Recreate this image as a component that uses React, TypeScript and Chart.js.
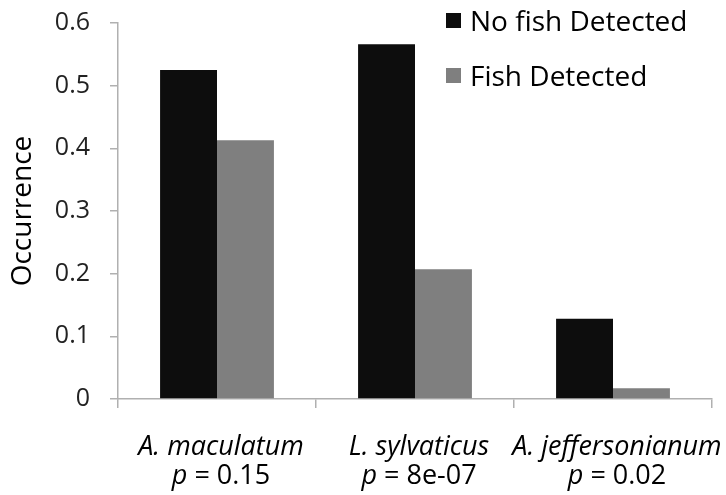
import React, { useEffect, useRef } from "react";
import { Chart, registerables } from "chart.js";

Chart.register(...registerables);

const categories = ["A. maculatum", "L. sylvaticus", "A. jeffersonianum"];
const pValues = ["0.15", "8e-07", "0.02"];
const seriesNames = ["No fish Detected", "Fish Detected"];
const noFishDetected = [0.525, 0.566, 0.128];
const fishDetected = [0.413, 0.207, 0.017];
const seriesColors = ["#0d0d0d", "#7f7f7f"];
const yMin = 0;
const yMax = 0.6;
const yStep = 0.1;

const FONT = "'Open Sans', 'Noto Sans', sans-serif";

const xLabelPlugin = {
  id: "xLabels",
  afterDraw(chart: any) {
    const ctx = chart.ctx;
    const xs = chart.scales.x;
    const base = chart.chartArea.bottom;
    ctx.save();
    ctx.fillStyle = "#000";
    ctx.textBaseline = "alphabetic";
    categories.forEach((cat, i) => {
      const x = xs.getPixelForValue(i) + 4;
      ctx.font = `italic 27px ${FONT}`;
      ctx.textAlign = "center";
      ctx.fillText(cat, x, base + 56);
      const pPart = "p";
      const rest = " = " + pValues[i];
      ctx.font = `italic 27px ${FONT}`;
      const w1 = ctx.measureText(pPart).width;
      ctx.font = `27px ${FONT}`;
      const w2 = ctx.measureText(rest).width;
      const start = x - (w1 + w2) / 2;
      ctx.textAlign = "left";
      ctx.font = `italic 27px ${FONT}`;
      ctx.fillText(pPart, start, base + 85);
      ctx.font = `27px ${FONT}`;
      ctx.fillText(rest, start + w1, base + 85);
    });
    ctx.restore();
  },
};

const legendPlugin = {
  id: "boxLegend",
  afterDraw(chart: any) {
    const ctx = chart.ctx;
    ctx.save();
    const x0 = 446;
    const y0 = 13;
    const rowGap = 55;
    chart.data.datasets.forEach((ds: any, i: number) => {
      const y = y0 + i * rowGap;
      ctx.fillStyle = ds.backgroundColor;
      ctx.fillRect(x0, y, 15, 15);
      ctx.fillStyle = "#000";
      ctx.font = `28px ${FONT}`;
      ctx.textAlign = "left";
      ctx.textBaseline = "alphabetic";
      ctx.fillText(ds.label, x0 + 24, y + 18);
    });
    ctx.restore();
  },
};

export default function App() {
  const ref = useRef<HTMLCanvasElement | null>(null);

  useEffect(() => {
    document.body.style.margin = "0";
    const canvas = ref.current;
    if (!canvas) return;
    const chart = new Chart(canvas, {
      type: "bar",
      data: {
        labels: categories,
        datasets: [
          {
            label: seriesNames[0],
            data: noFishDetected,
            backgroundColor: seriesColors[0],
            borderWidth: 0,
          },
          {
            label: seriesNames[1],
            data: fishDetected,
            backgroundColor: seriesColors[1],
            borderWidth: 0,
          },
        ],
      },
      options: {
        responsive: false,
        animation: false,
        layout: { padding: { left: 0, top: 23, right: 14, bottom: 0 } },
        plugins: {
          legend: { display: false },
          tooltip: { enabled: false },
          title: { display: false },
        },
        datasets: {
          bar: { categoryPercentage: 0.575, barPercentage: 1 },
        },
        scales: {
          x: {
            offset: true,
            grid: {
              offset: true,
              drawOnChartArea: false,
              drawTicks: true,
              tickLength: 9,
              color: "#b0b0b0",
              lineWidth: 1.5,
            },
            border: { display: true, color: "#b0b0b0", width: 1.5 },
            ticks: { display: false },
            afterFit(scale: any) {
              scale.height = 96;
              scale.paddingLeft = 0;
              scale.paddingRight = 0;
            },
          },
          y: {
            min: yMin,
            max: yMax,
            grid: {
              drawOnChartArea: false,
              drawTicks: true,
              tickLength: 8,
              color: "#b0b0b0",
              lineWidth: 1.5,
            },
            border: { display: true, color: "#b0b0b0", width: 1.5 },
            ticks: {
              stepSize: yStep,
              padding: 20,
              color: "#222",
              font: { family: FONT, size: 25 },
              callback: (v: any) => (Number(v) === 0 ? "0" : Number(v).toFixed(1)),
            },
            title: {
              display: true,
              text: "Occurrence",
              color: "#000",
              font: { family: FONT, size: 28 },
              padding: { top: 6, bottom: 0 },
            },
            afterFit(scale: any) {
              scale.width = 118;
              scale.paddingTop = 0;
              scale.paddingBottom = 0;
            },
          },
        },
      },
      plugins: [xLabelPlugin, legendPlugin],
    });
    return () => chart.destroy();
  }, []);

  return (
    <canvas
      ref={ref}
      width={726}
      height={495}
      style={{ display: "block", width: 726, height: 495 }}
    />
  );
}
